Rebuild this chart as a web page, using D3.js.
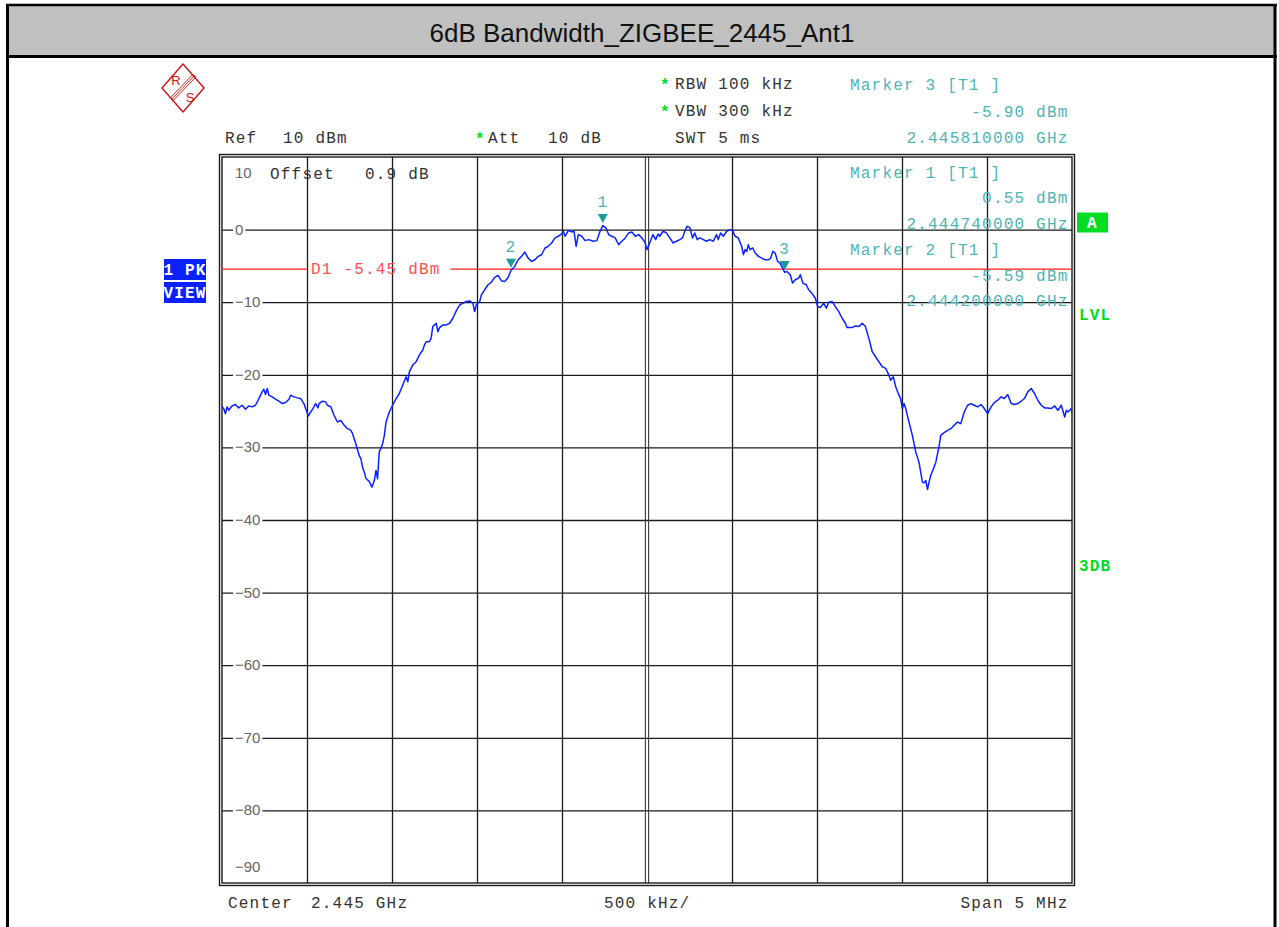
<!DOCTYPE html>
<html>
<head>
<meta charset="utf-8">
<script src="https://cdn.jsdelivr.net/npm/d3@7"></script>
<style>
  body { margin: 0; background: #fff; }
  .mono { font-family: "Liberation Mono", "DejaVu Sans Mono", monospace; font-size: 16px; letter-spacing: 1.2px; }
  .sans { font-family: "Liberation Sans", Arial, sans-serif; }
</style>
</head>
<body>
<svg id="chart" width="1279" height="927"></svg>
<script>
// trace: frequency offset from centre (MHz) and level (dBm)
const freqMHz = [
  -2.500, -2.490, -2.480, -2.470, -2.461, -2.441, -2.421, -2.402, -2.382, -2.362, -2.343, -2.323, -2.303,
  -2.283, -2.264, -2.254, -2.244, -2.234, -2.224, -2.205, -2.185, -2.165, -2.146, -2.126, -2.106, -2.096,
  -2.077, -2.057, -2.037, -2.018, -2.008, -1.992, -1.978, -1.965, -1.949, -1.935, -1.929, -1.909, -1.890,
  -1.880, -1.860, -1.841, -1.821, -1.801, -1.781, -1.762, -1.742, -1.732, -1.713, -1.693, -1.683, -1.673,
  -1.663, -1.654, -1.634, -1.618, -1.604, -1.594, -1.585, -1.575, -1.555, -1.545, -1.535, -1.516, -1.496,
  -1.476, -1.457, -1.437, -1.417, -1.407, -1.398, -1.378, -1.358, -1.339, -1.319, -1.309, -1.299, -1.280,
  -1.270, -1.260, -1.240, -1.230, -1.220, -1.201, -1.181, -1.161, -1.142, -1.122, -1.102, -1.083, -1.063,
  -1.043, -1.024, -1.014, -1.004, -0.984, -0.974, -0.955, -0.935, -0.915, -0.896, -0.876, -0.856, -0.837,
  -0.817, -0.800, -0.778, -0.758, -0.738, -0.719, -0.699, -0.679, -0.659, -0.640, -0.620, -0.600, -0.581,
  -0.561, -0.541, -0.522, -0.502, -0.492, -0.482, -0.463, -0.443, -0.429, -0.417, -0.404, -0.384, -0.364,
  -0.344, -0.315, -0.295, -0.276, -0.260, -0.240, -0.226, -0.207, -0.187, -0.167, -0.148, -0.128, -0.108,
  -0.089, -0.069, -0.049, -0.030, -0.010,
  0.000, 0.016, 0.035, 0.051, 0.065, 0.075, 0.094, 0.114, 0.134, 0.154, 0.173, 0.193, 0.209, 0.222, 0.236,
  0.252, 0.268, 0.281, 0.295, 0.311, 0.331, 0.350, 0.370, 0.390, 0.409, 0.419, 0.433, 0.449, 0.469, 0.488,
  0.504, 0.518, 0.537, 0.557, 0.567, 0.577, 0.587, 0.596, 0.606, 0.622, 0.636, 0.656, 0.675, 0.695, 0.715,
  0.728, 0.740, 0.754, 0.768, 0.783, 0.810, 0.823, 0.843, 0.856, 0.872, 0.892, 0.902, 0.917, 0.937, 0.951,
  0.970, 0.990, 1.004, 1.020, 1.039, 1.055, 1.069, 1.089, 1.108, 1.128, 1.148, 1.167, 1.177, 1.207, 1.226,
  1.246, 1.266, 1.285, 1.305, 1.325, 1.344, 1.364, 1.384, 1.404, 1.423, 1.433, 1.449, 1.463, 1.482, 1.492,
  1.502, 1.512, 1.522, 1.541, 1.561, 1.571, 1.581, 1.600, 1.610, 1.620, 1.630, 1.640, 1.650, 1.659, 1.669,
  1.685, 1.699, 1.709, 1.719, 1.728, 1.748, 1.768, 1.787, 1.807, 1.827, 1.846, 1.866, 1.886, 1.906, 1.925,
  1.945, 1.965, 1.984, 2.004, 2.024, 2.043, 2.063, 2.083, 2.102, 2.122, 2.142, 2.161, 2.181, 2.201, 2.220,
  2.240, 2.260, 2.280, 2.299, 2.319, 2.339, 2.358, 2.378, 2.398, 2.417, 2.437, 2.457, 2.467, 2.476, 2.496,
  2.500
];
const levelDbm = [
  -24.40, -24.65, -25.35, -24.42, -24.88, -24.29, -24.10, -24.56, -24.19, -24.75, -24.29, -24.42, -24.19,
  -23.27, -22.35, -21.98, -22.72, -21.89, -22.81, -23.04, -23.36, -23.64, -23.96, -23.82, -23.36, -22.81,
  -23.04, -23.18, -23.27, -23.96, -24.65, -25.67, -25.12, -24.65, -23.96, -24.56, -23.96, -23.64, -23.73,
  -24.19, -24.42, -25.58, -26.50, -26.27, -26.96, -27.42, -27.65, -28.11, -29.49, -31.11, -31.57, -32.72,
  -33.41, -34.24, -34.70, -35.48, -34.56, -33.18, -34.33, -30.65, -29.49, -28.34, -26.50, -25.12, -24.19,
  -23.27, -22.58, -21.43, -20.28, -20.97, -19.59, -18.66, -18.20, -17.28, -16.59, -15.90, -15.44, -15.44,
  -14.98, -13.36, -12.90, -14.06, -13.50, -13.13, -13.13, -12.90, -12.21, -11.20, -10.37, -10.14, -9.91,
  -9.82, -10.14, -11.29, -10.37, -9.91, -8.99, -8.29, -7.60, -7.24, -6.59, -6.31, -7.05, -7.14,
  -6.59, -5.59, -5.07, -4.15, -3.69, -3.09, -3.92, -4.38, -4.15, -3.69, -3.46, -2.53, -2.30,
  -1.84, -1.15, -0.92, -0.60, -0.23, -0.92, -0.14, -0.32, -0.23, -2.30, -0.69, -0.92, -1.52,
  -1.38, -1.61, -1.52, -0.23, 0.55, 0.20, -0.69, -0.92, -1.15, -2.07, -1.61, -1.15, -0.46,
  -0.32, -0.92, -0.69, -1.15, -1.84,
  -2.76, -1.84, -0.69, -1.38, -0.60, -0.92, -0.23, -0.46, -1.15, -1.84, -1.61, -1.38, -1.15, -0.23, 0.45,
  0.30, -1.15, -0.46, -1.38, -1.15, -1.38, -1.61, -1.38, -1.61, -0.69, -1.38, -0.46, -0.92, -0.23, 0.00,
  -0.14, -0.92, -1.15, -2.30, -3.46, -2.76, -3.00, -2.07, -2.76, -2.53, -3.23, -3.69, -3.92, -4.15, -4.15,
  -3.92, -3.00, -3.23, -4.38, -4.61, -5.90, -5.76, -6.22, -7.37, -6.91, -6.68, -6.22, -7.37, -7.60, -8.29,
  -8.76, -9.45, -10.60, -10.74, -10.14, -10.83, -10.00, -9.91, -10.60, -11.29, -12.21, -12.90, -13.50, -13.50, -13.27,
  -13.36, -12.90, -13.36, -14.98, -16.82, -17.51, -18.20, -18.89, -19.12, -20.05, -20.74, -20.28, -21.66, -22.81, -23.27,
  -24.65, -23.96, -24.65, -26.50, -28.34, -29.49, -30.65, -32.03, -33.41, -34.79, -34.88, -34.56, -35.81, -34.79, -33.87,
  -32.95, -32.03, -30.88, -29.72, -28.34, -27.97, -27.65, -27.42, -26.96, -26.50, -26.73, -25.12, -24.19, -23.96, -24.19,
  -24.42, -24.10, -24.65, -25.35, -24.42, -23.82, -23.50, -23.04, -23.27, -22.72, -23.96, -24.10, -23.96, -23.64, -23.27,
  -22.35, -21.89, -22.58, -23.50, -24.19, -24.56, -24.56, -24.65, -24.29, -24.88, -24.19, -25.81, -24.88, -25.12, -24.65,
  -25.35
];

const yTicks = [10, 0, -10, -20, -30, -40, -50, -60, -70, -80, -90];
const yTickLabels = ['10', '0', '\u221210', '\u221220', '\u221230', '\u221240', '\u221250', '\u221260', '\u221270', '\u221280', '\u221290'];
const xTicks = [-2, -1.5, -1, -0.5, 0.5, 1, 1.5, 2];

const markerIds = ['1', '2', '3'];
const markerFreqMHz = [-0.26, -0.80, 0.81];
const markerLevels = [0.55, -5.59, -5.90];
const displayLineDbm = -5.45;

const headerLeft = ['Ref', '10 dBm', 'Att', '10 dB'];
const settings = ['RBW 100 kHz', 'VBW 300 kHz', 'SWT 5 ms'];
const footer = ['Center', '2.445 GHz', '500 kHz/', 'Span 5 MHz'];

// ---- layout
const W = 1279, H = 927;
const plot = { left: 222, right: 1072, top: 157, bottom: 883 };
const teal = '#4db5b5', dark = '#333', green = '#00dd22', blue = '#0a22ff';

const svg = d3.select('#chart');

const x = d3.scaleLinear().domain([-2.5, 2.5]).range([plot.left, plot.right]);
const y = d3.scaleLinear().domain([10, -90]).range([plot.top, plot.bottom]);

// outer frame and title bar
svg.append('rect').attr('x', 7.5).attr('y', 5).attr('width', 1267.5).attr('height', 51)
  .attr('fill', '#c0c0c0');
svg.append('line').attr('x1', 6).attr('x2', 1277).attr('y1', 5).attr('y2', 5)
  .attr('stroke', '#000').attr('stroke-width', 2.5);
svg.append('line').attr('x1', 6).attr('x2', 1277).attr('y1', 56.5).attr('y2', 56.5)
  .attr('stroke', '#000').attr('stroke-width', 3);
[7.5, 1275].forEach(xx => svg.append('line').attr('x1', xx).attr('x2', xx).attr('y1', 4).attr('y2', H)
  .attr('stroke', '#000').attr('stroke-width', 3));
svg.append('text').attr('class', 'sans').attr('x', 642).attr('y', 42)
  .attr('text-anchor', 'middle').attr('font-size', 26).attr('fill', '#111')
  .text('6dB Bandwidth_ZIGBEE_2445_Ant1');

// R&S logo
const logo = svg.append('g').attr('transform', 'translate(183,88)');
logo.append('path').attr('d', 'M0,-24 L21,0 L0,24 L-21,0 Z')
  .attr('fill', 'none').attr('stroke', '#cc1414').attr('stroke-width', 1.4).attr('stroke-linejoin', 'round');
[-2, 0, 2].forEach(o => logo.append('line')
  .attr('x1', 12 + o * 0.7).attr('y1', -13 + o * 0.7).attr('x2', -12 + o * 0.7).attr('y2', 12 + o * 0.7)
  .attr('stroke', '#cc1414').attr('stroke-width', 0.9));
logo.append('text').attr('class', 'sans').attr('x', -7).attr('y', -3).attr('text-anchor', 'middle')
  .attr('font-size', 13).attr('fill', '#cc1414').text('R');
logo.append('text').attr('class', 'sans').attr('x', 7).attr('y', 14).attr('text-anchor', 'middle')
  .attr('font-size', 13).attr('fill', '#cc1414').text('S');

// grid
const grid = svg.append('g');
const xGrid = grid.append('g').attr('transform', `translate(0,${plot.bottom})`)
  .call(d3.axisBottom(x).tickValues(xTicks).tickSize(-(plot.bottom - plot.top)).tickFormat(''));
const yGrid = grid.append('g').attr('transform', `translate(${plot.left},0)`)
  .call(d3.axisLeft(y).tickValues(yTicks.slice(1, -1)).tickSize(-(plot.right - plot.left)).tickFormat(''));
[xGrid, yGrid].forEach(g => {
  g.select('.domain').remove();
  g.selectAll('.tick line').attr('stroke', '#1a1a1a').attr('stroke-width', 1.3);
});
// doubled centre line
[-1.6, 1.6].forEach(o => grid.append('line')
  .attr('x1', x(0) + o).attr('x2', x(0) + o).attr('y1', plot.top).attr('y2', plot.bottom)
  .attr('stroke', '#3a3a3a').attr('stroke-width', 1.1));
// doubled frame
grid.append('rect').attr('x', plot.left).attr('y', plot.top)
  .attr('width', plot.right - plot.left).attr('height', plot.bottom - plot.top)
  .attr('fill', 'none').attr('stroke', '#1a1a1a').attr('stroke-width', 1.4);
grid.append('rect').attr('x', plot.left - 2.5).attr('y', plot.top - 2.5)
  .attr('width', plot.right - plot.left + 5).attr('height', plot.bottom - plot.top + 5)
  .attr('fill', 'none').attr('stroke', '#1a1a1a').attr('stroke-width', 1.4);

// y labels inside the grid, with a white gap in the line
const ylab = svg.append('g');
yTicks.forEach((v, i) => {
  let yy = y(v) + 5;
  if (i === 0) yy = y(v) + 21;
  if (i === yTicks.length - 1) yy = y(v) - 11;
  const t = ylab.append('text').attr('class', 'sans').attr('x', 235).attr('y', yy)
    .attr('font-size', 15).attr('fill', '#666').text(yTickLabels[i]);
  if (i > 0 && i < yTicks.length - 1) {
    const b = t.node().getBBox();
    ylab.insert('rect', 'text').attr('x', b.x - 2).attr('y', y(v) - 2)
      .attr('width', b.width + 4).attr('height', 4).attr('fill', '#fff');
  }
});

// text helper
function txt(s, xx, yy, color, anchor) {
  return svg.append('text').attr('class', 'mono').attr('x', xx).attr('y', yy)
    .attr('fill', color).attr('text-anchor', anchor || 'start').text(s);
}
function star(xx, yy) {
  return svg.append('text').attr('class', 'mono').attr('x', xx).attr('y', yy)
    .attr('font-size', 17).attr('font-weight', 'bold').attr('fill', green).text('*');
}

// header
txt(headerLeft[0], 225, 143, dark);
txt(headerLeft[1], 283, 143, dark);
star(475, 144);
txt(headerLeft[2], 488, 143, dark);
txt(headerLeft[3], 548, 143, dark);
star(660, 90);
txt(settings[0], 675, 89, dark);
star(660, 117);
txt(settings[1], 675, 116, dark);
txt(settings[2], 675, 143, dark);

// marker readouts
const rx = 1068.5;
txt('Marker 3 [T1 ]', 850, 90, teal);
txt('-5.90 dBm', rx, 117, teal, 'end');
txt('2.445810000 GHz', rx, 143, teal, 'end');
txt('Offset', 270, 179, dark);
txt('0.9 dB', 365, 179, dark);
txt('Marker 1 [T1 ]', 850, 178, teal);
txt('0.55 dBm', rx, 203, teal, 'end');
txt('2.444740000 GHz', rx, 229, teal, 'end');
txt('Marker 2 [T1 ]', 850, 255, teal);
txt('-5.59 dBm', rx, 281, teal, 'end');
txt('2.444200000 GHz', rx, 306, teal, 'end');

// footer
txt(footer[0], 228, 908, dark);
txt(footer[1], 311, 908, dark);
txt(footer[2], 604, 908, dark);
txt(footer[3], rx, 908, dark, 'end');

// side labels
function box(s, x0, y0, w, h, fill) {
  svg.append('rect').attr('x', x0).attr('y', y0).attr('width', w).attr('height', h).attr('fill', fill);
  svg.append('text').attr('class', 'mono').attr('x', x0 + w / 2).attr('y', y0 + h / 2 + 5)
    .attr('text-anchor', 'middle').attr('font-weight', 'bold').attr('font-size', 15)
    .attr('letter-spacing', 0).attr('fill', '#fff').text(s);
}
box('1 PK', 164, 259, 42, 21, blue);
box('VIEW', 164, 282, 42, 21, blue);
box('A', 1077, 212.5, 31, 20, green);
svg.append('text').attr('class', 'mono').attr('x', 1079).attr('y', 320).attr('font-weight', 'bold')
  .attr('font-size', 15).attr('letter-spacing', 0).attr('fill', green).text('LVL');
svg.append('text').attr('class', 'mono').attr('x', 1079).attr('y', 571).attr('font-weight', 'bold')
  .attr('font-size', 15).attr('letter-spacing', 0).attr('fill', green).text('3DB');

// display line D1
const dl = svg.append('g');
const dlText = dl.append('text').attr('class', 'mono').attr('x', 311).attr('y', y(displayLineDbm) + 5)
  .attr('fill', '#ff5050').text('D1 -5.45 dBm');
const dlEnd = 311 + dlText.node().getComputedTextLength();
dl.append('line').attr('x1', plot.left).attr('x2', 307.5)
  .attr('y1', y(displayLineDbm)).attr('y2', y(displayLineDbm))
  .attr('stroke', '#ff1a1a').attr('stroke-width', 1.4);
dl.append('line').attr('x1', dlEnd + 10).attr('x2', plot.right)
  .attr('y1', y(displayLineDbm)).attr('y2', y(displayLineDbm))
  .attr('stroke', '#ff1a1a').attr('stroke-width', 1.4);

// trace
svg.append('clipPath').attr('id', 'clip').append('rect')
  .attr('x', plot.left).attr('y', plot.top).attr('width', plot.right - plot.left).attr('height', plot.bottom - plot.top);
const trace = freqMHz.map((f, i) => [f, levelDbm[i]]);
svg.append('path').datum(trace)
  .attr('clip-path', 'url(#clip)')
  .attr('fill', 'none').attr('stroke', '#0a22ff').attr('stroke-width', 1.5).attr('stroke-linejoin', 'round')
  .attr('d', d3.line().x(d => x(d[0])).y(d => y(d[1])));

// markers
markerIds.forEach((id, i) => {
  const mx = x(markerFreqMHz[i]);
  const my = y(markerLevels[i]) - 2.5;
  svg.append('path').attr('d', `M${mx - 5},${my - 9} L${mx + 5},${my - 9} L${mx},${my} Z`).attr('fill', '#1a9a9a');
  svg.append('text').attr('class', 'mono').attr('x', mx).attr('y', my - 16)
    .attr('text-anchor', 'middle').attr('letter-spacing', 0).attr('fill', teal).text(id);
});
</script>
</body>
</html>
